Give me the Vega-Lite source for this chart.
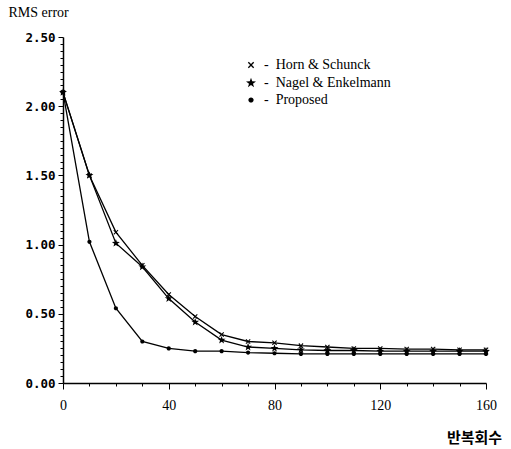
{
  "$schema": "https://vega.github.io/schema/vega-lite/v6.json",
  "autosize": "none",
  "width": 423,
  "height": 346,
  "padding": {"left": 63, "top": 37, "right": 25, "bottom": 66},
  "background": "white",
  "config": {"view": {"stroke": null}},
  "data": {"values": [
    {"it": 0, "s": "Horn & Schunck", "v": 2.1},
    {"it": 10, "s": "Horn & Schunck", "v": 1.5},
    {"it": 20, "s": "Horn & Schunck", "v": 1.09},
    {"it": 30, "s": "Horn & Schunck", "v": 0.85},
    {"it": 40, "s": "Horn & Schunck", "v": 0.64},
    {"it": 50, "s": "Horn & Schunck", "v": 0.48},
    {"it": 60, "s": "Horn & Schunck", "v": 0.35},
    {"it": 70, "s": "Horn & Schunck", "v": 0.3},
    {"it": 80, "s": "Horn & Schunck", "v": 0.29},
    {"it": 90, "s": "Horn & Schunck", "v": 0.27},
    {"it": 100, "s": "Horn & Schunck", "v": 0.26},
    {"it": 110, "s": "Horn & Schunck", "v": 0.25},
    {"it": 120, "s": "Horn & Schunck", "v": 0.25},
    {"it": 130, "s": "Horn & Schunck", "v": 0.245},
    {"it": 140, "s": "Horn & Schunck", "v": 0.245},
    {"it": 150, "s": "Horn & Schunck", "v": 0.24},
    {"it": 160, "s": "Horn & Schunck", "v": 0.24},
    {"it": 0, "s": "Nagel & Enkelmann", "v": 2.1},
    {"it": 10, "s": "Nagel & Enkelmann", "v": 1.5},
    {"it": 20, "s": "Nagel & Enkelmann", "v": 1.01},
    {"it": 30, "s": "Nagel & Enkelmann", "v": 0.84},
    {"it": 40, "s": "Nagel & Enkelmann", "v": 0.61},
    {"it": 50, "s": "Nagel & Enkelmann", "v": 0.44},
    {"it": 60, "s": "Nagel & Enkelmann", "v": 0.31},
    {"it": 70, "s": "Nagel & Enkelmann", "v": 0.26},
    {"it": 80, "s": "Nagel & Enkelmann", "v": 0.25},
    {"it": 90, "s": "Nagel & Enkelmann", "v": 0.24},
    {"it": 100, "s": "Nagel & Enkelmann", "v": 0.235},
    {"it": 110, "s": "Nagel & Enkelmann", "v": 0.235},
    {"it": 120, "s": "Nagel & Enkelmann", "v": 0.23},
    {"it": 130, "s": "Nagel & Enkelmann", "v": 0.23},
    {"it": 140, "s": "Nagel & Enkelmann", "v": 0.23},
    {"it": 150, "s": "Nagel & Enkelmann", "v": 0.23},
    {"it": 160, "s": "Nagel & Enkelmann", "v": 0.23},
    {"it": 0, "s": "Proposed", "v": 2.1},
    {"it": 10, "s": "Proposed", "v": 1.02},
    {"it": 20, "s": "Proposed", "v": 0.54},
    {"it": 30, "s": "Proposed", "v": 0.3},
    {"it": 40, "s": "Proposed", "v": 0.25},
    {"it": 50, "s": "Proposed", "v": 0.23},
    {"it": 60, "s": "Proposed", "v": 0.23},
    {"it": 70, "s": "Proposed", "v": 0.22},
    {"it": 80, "s": "Proposed", "v": 0.215},
    {"it": 90, "s": "Proposed", "v": 0.21},
    {"it": 100, "s": "Proposed", "v": 0.21},
    {"it": 110, "s": "Proposed", "v": 0.21},
    {"it": 120, "s": "Proposed", "v": 0.21},
    {"it": 130, "s": "Proposed", "v": 0.21},
    {"it": 140, "s": "Proposed", "v": 0.21},
    {"it": 150, "s": "Proposed", "v": 0.21},
    {"it": 160, "s": "Proposed", "v": 0.21}
  ]},
  "encoding": {
    "x": {"field": "it", "type": "quantitative",
      "scale": {"domain": [0, 160], "nice": false, "zero": false},
      "axis": {
        "values": [0,10,20,30,40,50,60,70,80,90,100,110,120,130,140,150,160],
        "labelExpr": "datum.value % 40 == 0 ? datum.label : ''",
        "grid": false, "domainColor": "black", "domainWidth": 1.5,
        "tickColor": "black", "tickWidth": 1,
        "tickSize": {"expr": "datum.value % 40 == 0 ? 6 : 3"},
        "labelFont": "Liberation Serif", "labelFontSize": 14, "labelColor": "black",
        "labelPadding": 9, "labelFlush": false,
        "title": "반복회수", "titleFont": "Noto Sans CJK KR", "titleFontSize": 15,
        "titleFontWeight": "bold", "titleColor": "black",
        "titleX": 411, "titleY": 54, "titleAlign": "center", "titleBaseline": "middle"
      }},
    "y": {"field": "v", "type": "quantitative",
      "scale": {"domain": [0, 2.5], "nice": false},
      "axis": {
        "values": [0,0.05,0.1,0.15,0.2,0.25,0.3,0.35,0.4,0.45,0.5,0.55,0.6,0.65,0.7,0.75,0.8,0.85,0.9,0.95,1,1.05,1.1,1.15,1.2,1.25,1.3,1.35,1.4,1.45,1.5,1.55,1.6,1.65,1.7,1.75,1.8,1.85,1.9,1.95,2,2.05,2.1,2.15,2.2,2.25,2.3,2.35,2.4,2.45,2.5],
        "labelExpr": "abs(round(datum.value*2) - datum.value*2) < 0.001 ? format(datum.value, '.2f') : ''",
        "grid": false, "domainColor": "black", "domainWidth": 1.5,
        "tickColor": "black", "tickWidth": 1,
        "tickSize": {"expr": "abs(round(datum.value*2) - datum.value*2) < 0.001 ? 5 : 3"},
        "labelFont": "DejaVu Sans Mono", "labelFontWeight": "bold", "labelFontSize": 12.5,
        "labelColor": "black", "labelPadding": 3, "labelFlush": false,
        "title": "RMS error", "titleFont": "Liberation Serif", "titleFontSize": 14,
        "titleFontWeight": "normal", "titleColor": "black", "titleAngle": 0,
        "titleX": -55, "titleY": -25, "titleAlign": "left", "titleBaseline": "middle"
      }}
  },
  "layer": [
    {"mark": {"type": "line", "color": "black", "strokeWidth": 1.3},
     "encoding": {"detail": {"field": "s"}}},
    {"mark": {"type": "point", "filled": true, "color": "black", "opacity": 1, "size": 70},
     "encoding": {
       "shape": {"field": "s", "type": "nominal",
         "scale": {"domain": ["Horn & Schunck", "Nagel & Enkelmann", "Proposed"],
           "range": ["M-0.6,-0.42L-0.42,-0.6L0,-0.18L0.42,-0.6L0.6,-0.42L0.18,0L0.6,0.42L0.42,0.6L0,0.18L-0.42,0.6L-0.6,0.42L-0.18,0Z",
             "M0,-1L0.235,-0.324L0.951,-0.309L0.380,0.124L0.588,0.809L0,0.4L-0.588,0.809L-0.380,0.124L-0.951,-0.309L-0.235,-0.324Z",
             "M-0.5,0A0.5,0.5 0 1,0 0.5,0A0.5,0.5 0 1,0 -0.5,0Z"]},
         "legend": {"orient": "none", "legendX": 181, "legendY": 21, "title": null,
           "padding": 0, "symbolFillColor": "black", "symbolSize": 110,
           "labelFont": "Liberation Serif", "labelFontSize": 14,
           "labelColor": "black", "labelOffset": 6, "rowPadding": 2,
           "labelExpr": "'-\u00a0\u00a0' + datum.label"}}
     }}
  ]
}
